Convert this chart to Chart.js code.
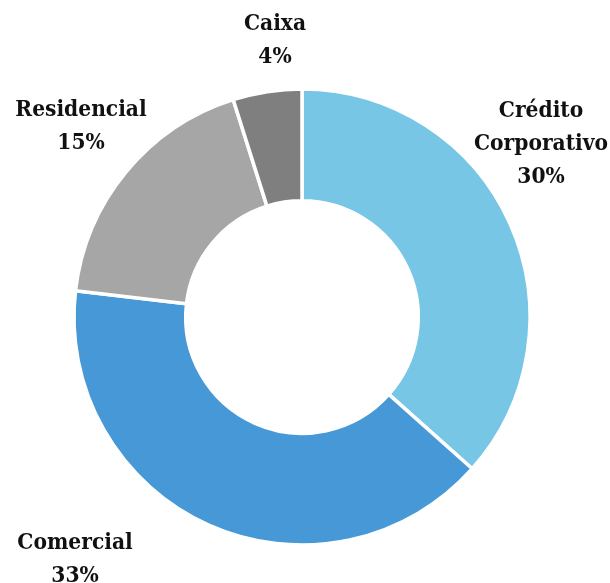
<!DOCTYPE html>
<html>
<head>
<meta charset="utf-8">
<script src="https://cdn.jsdelivr.net/npm/chart.js@4/dist/chart.umd.min.js"></script>
<style>
  html, body { margin: 0; padding: 0; background: #fff; }
  #wrap { width: 610px; height: 583px; }
</style>
</head>
<body>
<div id="wrap"><canvas id="chart" width="610" height="583"></canvas></div>
<script>
// dados do gráfico
const categories = [['Crédito', 'Corporativo'], ['Comercial'], ['Residencial'], ['Caixa']]
const values = [30, 33, 15, 4]
const colors = ['#77C6E5', '#4698D6', '#A6A6A6', '#7F7F7F']

// posição de cada rótulo em relação ao centro do anel (px)
const labelOffsets = [[239, -173], [-227, 243], [-221, -190], [-27, -276]]

const labelFont = 'bold 22.5px "DejaVu Serif Condensed", "DejaVu Serif", serif'
const lineHeight = 33

const outerLabels = {
  id: 'outerLabels',
  afterDatasetsDraw(chart) {
    const arc = chart.getDatasetMeta(0).data[0]
    if (!arc) return
    const ctx = chart.ctx
    ctx.save()
    ctx.font = labelFont
    ctx.fillStyle = '#111111'
    ctx.textAlign = 'center'
    ctx.textBaseline = 'middle'
    categories.forEach((name, i) => {
      const lines = [...name, values[i] + '%']
      const cx = arc.x + labelOffsets[i][0]
      const cy = arc.y + labelOffsets[i][1]
      lines.forEach((txt, j) => {
        ctx.fillText(txt, cx, cy + (j - (lines.length - 1) / 2) * lineHeight)
      })
    })
    ctx.restore()
  },
}

new Chart(document.getElementById('chart'), {
  type: 'doughnut',
  data: {
    labels: categories.map(c => c.join(' ')),
    datasets: [
      {
        data: values,
        backgroundColor: colors,
        borderColor: '#ffffff',
        borderWidth: 3.5,
      },
    ],
  },
  options: {
    responsive: false,
    devicePixelRatio: 1,
    animation: false,
    cutout: '51%',
    radius: 228,
    layout: { padding: { left: 0, right: 6, top: 51, bottom: 0 } },
    plugins: {
      legend: { display: false },
      tooltip: { enabled: false },
    },
  },
  plugins: [outerLabels],
})
</script>
</body>
</html>
